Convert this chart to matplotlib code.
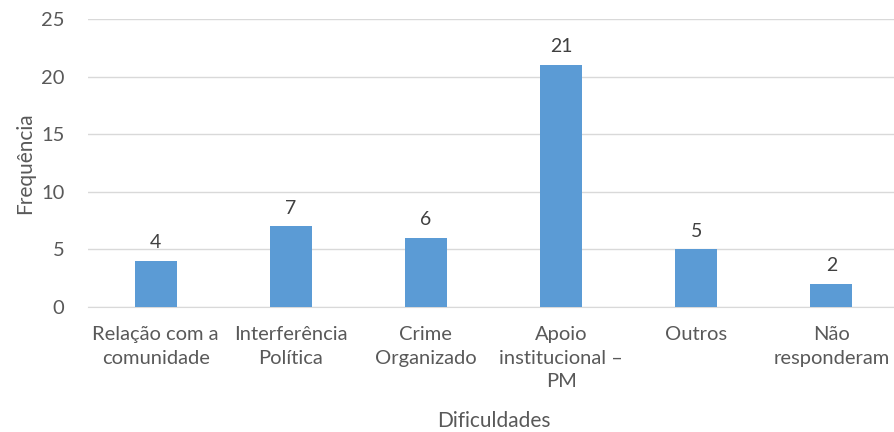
import matplotlib
matplotlib.use("Agg")
import matplotlib.pyplot as plt

# Dificuldades relatadas e frequência de respostas
categorias = [
    "Relação com a\ncomunidade",
    "Interferência\nPolítica",
    "Crime\nOrganizado",
    "Apoio\ninstitucional –\nPM",
    "Outros",
    "Não\nresponderam",
]
frequencias = [4, 7, 6, 21, 5, 2]
yticks = [0, 5, 10, 15, 20, 25]

plt.rcParams['font.family'] = ['Lato', 'DejaVu Sans']
texto = '#595959'

fig = plt.figure(figsize=(8.94, 4.32), dpi=100)
ax = fig.add_axes([88 / 894, 1 - 307 / 432, 811 / 894, 288 / 432])

x = list(range(len(categorias)))
bars = ax.bar(x, frequencias, width=0.31, color='#5B9BD5', zorder=3)
for b, v in zip(bars, frequencias):
    ax.text(b.get_x() + b.get_width() / 2, v + 0.85, str(v), ha='center', va='bottom',
            fontsize=14, color='#404040')

ax.set_xlim(-0.5, len(categorias) - 0.5)
ax.set_ylim(0, 25)
ax.set_yticks(yticks)
ax.set_xticks(x)
ax.set_xticklabels(categorias, fontsize=14.5, color=texto, linespacing=1.45, va='top')
ax.tick_params(axis='y', labelsize=14.5, labelcolor=texto, length=0, pad=17)
ax.tick_params(axis='x', length=0, pad=14)

ax.grid(axis='y', color='#D9D9D9', linewidth=1, zorder=0)
for s in ['top', 'right', 'left']:
    ax.spines[s].set_visible(False)
ax.spines['bottom'].set_color('#D9D9D9')

ax.set_ylabel('Frequência', fontsize=15, color=texto, labelpad=4)
ax.set_xlabel('Dificuldades', fontsize=15, color=texto, labelpad=15)

fig.savefig('out.png', dpi=100)
